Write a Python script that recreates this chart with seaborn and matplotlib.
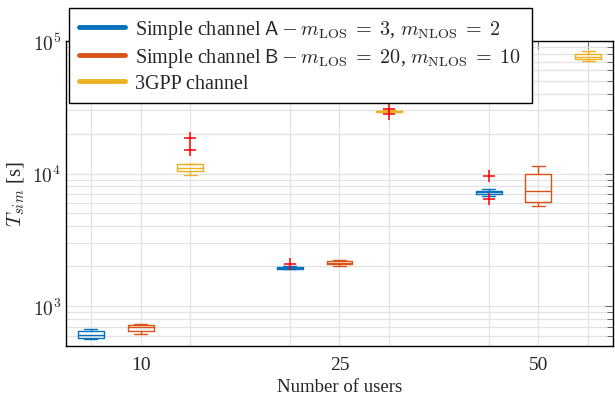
import numpy as np
import pandas as pd
import matplotlib
matplotlib.use("Agg")
import matplotlib.pyplot as plt
from matplotlib.lines import Line2D
from matplotlib.ticker import FixedLocator, LogLocator, FuncFormatter, NullFormatter
import seaborn as sns

# --- data (seconds) ---
users = ["10", "25", "50"]
channels = ["A", "B", "3GPP"]

# five-number summaries per channel and user count: whisker low, q1, median, q3, whisker high
stats_A = [
    [562, 571, 608, 652, 668],
    [1890, 1920, 1947, 1975, 2000],
    [6830, 7030, 7250, 7450, 7670],
]
stats_B = [
    [613, 646, 692, 720, 732],
    [2010, 2080, 2130, 2180, 2230],
    [5710, 6120, 7360, 9880, 11480],
]
stats_3GPP = [
    [9820, 10400, 11040, 11830, 11900],
    [28900, 29150, 29400, 29700, 30000],
    [71000, 72800, 76200, 79800, 84500],
]

# outliers (red crosses)
out_users = ["10", "10", "25", "25", "25", "50", "50"]
out_channels = ["3GPP", "3GPP", "A", "3GPP", "3GPP", "A", "A"]
out_values = [18540, 15070, 2070, 30800, 28200, 9550, 6480]

labels = [
    r"Simple channel $\mathsf{A}-m_{\mathrm{LOS}}\;=\;3$, $m_{\mathrm{NLOS}}\;=\;2$",
    r"Simple channel $\mathsf{B}-m_{\mathrm{LOS}}\;=\;20$, $m_{\mathrm{NLOS}}\;=\;10$",
    "3GPP channel",
]
colors = ["#0072BD", "#D95319", "#EDB120"]

# --- long-form table ---
rows = []
for ch, stats in zip(channels, [stats_A, stats_B, stats_3GPP]):
    for u, s in zip(users, stats):
        for v in s:
            rows.append({"key": f"{u}-{ch}", "channel": ch, "time": v})
df = pd.DataFrame(rows)

# one slot per box, with an empty slot between user groups
order = []
for i, u in enumerate(users):
    if i > 0:
        order.append(f"gap{i}")
    order += [f"{u}-{ch}" for ch in channels]
box_pos = [i for i, k in enumerate(order) if not k.startswith("gap")]

df_out = pd.DataFrame({
    "key": [f"{u}-{c}" for u, c in zip(out_users, out_channels)],
    "time": out_values,
})

# --- style ---
sns.set_style("white")
plt.rcParams["font.family"] = ["Liberation Serif", "DejaVu Serif"]
plt.rcParams["mathtext.fontset"] = "cm"

fig = plt.figure(figsize=(6.15, 4.02), dpi=100)
ax = fig.add_axes([0.1073, 0.1368, 0.8894, 0.7587])

sns.boxplot(data=df, x="key", y="time", hue="channel", order=order,
            hue_order=channels, palette=colors, dodge=False, fill=False,
            whis=(0, 100), width=0.52, linewidth=1.0, log_scale=True,
            legend=False, ax=ax)
sns.stripplot(data=df_out, x="key", y="time", order=order, jitter=False,
              color="red", marker="+", size=9, linewidth=1.1, ax=ax,
              zorder=5)

ax.set_yscale("log")
ax.set_ylim(500, 1e5)
ax.set_xlim(-0.5, len(order) - 0.5)

ax.xaxis.set_major_locator(FixedLocator(box_pos))
ax.set_xticklabels(["" if j % 3 != 1 else users[j // 3] for j in range(len(box_pos))])
ax.yaxis.set_major_locator(LogLocator(base=10, numticks=10))
ax.yaxis.set_minor_locator(LogLocator(base=10, subs=np.arange(2, 10), numticks=20))
ax.yaxis.set_major_formatter(FuncFormatter(lambda v, p: r"$10^{%d}$" % round(np.log10(v))))
ax.yaxis.set_minor_formatter(NullFormatter())

ax.grid(True, which="major", color="#e3e3e3", linewidth=0.9)
ax.grid(True, which="minor", axis="y", color="#e3e3e3", linewidth=0.9)
ax.set_axisbelow(True)

ax.tick_params(which="both", direction="in", top=True, right=True,
               color="#555555", width=0.6, labelsize=14)
ax.tick_params(which="major", length=6)
ax.tick_params(which="minor", length=4)
ax.tick_params(axis="x", pad=7)
for sp in ax.spines.values():
    sp.set_color("black")
    sp.set_linewidth(1.0)

ax.set_xlabel("Number of users", fontsize=13.5, labelpad=4)
ax.set_ylabel(r"$T_{sim}$ [s]", fontsize=15, labelpad=4)

handles = [Line2D([0], [0], color=c, linewidth=3.5) for c in colors]
leg = fig.legend(handles, labels, loc="upper left",
                 bbox_to_anchor=(69 / 615, 1 - 9 / 402), borderaxespad=0,
                 fontsize=14.5, frameon=True, fancybox=False, framealpha=1,
                 edgecolor="black", handlelength=2.3, handletextpad=0.5,
                 labelspacing=0.24, borderpad=0.5)
leg.get_frame().set_linewidth(1.0)

fig.savefig("out.png", dpi=100)
